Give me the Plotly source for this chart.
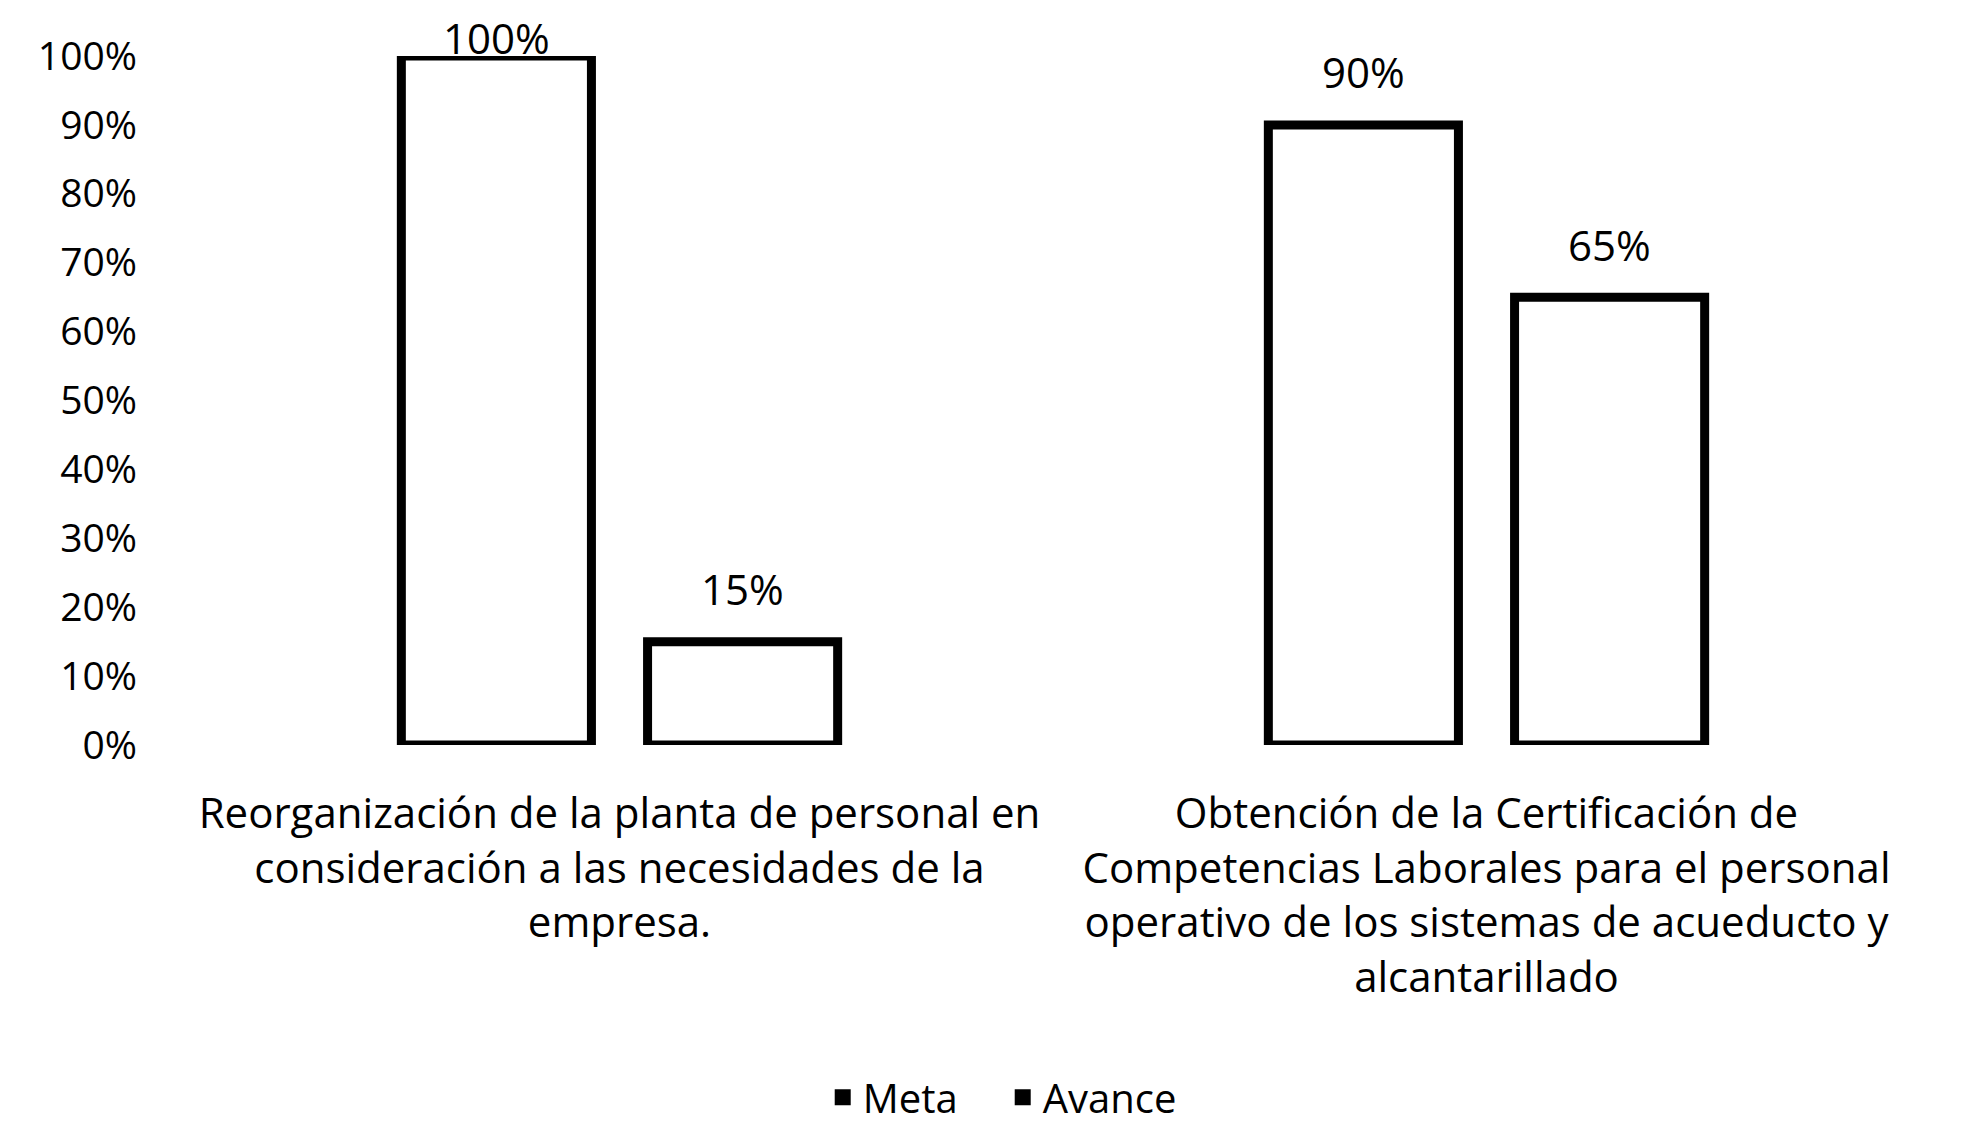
import plotly.graph_objects as go

categories = [
    "Reorganización de la planta de personal en<br>consideración a las necesidades de la<br>empresa.",
    "Obtención de la Certificación de<br>Competencias Laborales para el personal<br>operativo de los sistemas de acueducto y<br>alcantarillado",
]
meta = [1.00, 0.90]
avance = [0.15, 0.65]
series_names = ["Meta", "Avance"]
y_ticks = [0, 0.1, 0.2, 0.3, 0.4, 0.5, 0.6, 0.7, 0.8, 0.9, 1.0]

FONT = "Open Sans"
fig = go.Figure()
for name, vals, off in [(series_names[0], meta, 0), (series_names[1], avance, 1)]:
    fig.add_trace(go.Bar(
        x=categories, y=vals, name=name, showlegend=False,
        marker=dict(color="white", line=dict(color="black", width=9)),
        offsetgroup=str(off),
    ))
    fig.add_trace(go.Scatter(
        x=[None], y=[None], mode="markers", name=name,
        marker=dict(symbol="square", color="black", size=24),
    ))

# data labels
annotations = []
for vals, side in [(meta, -1), (avance, 1)]:
    for cat, v in zip(categories, vals):
        annotations.append(dict(
            x=cat, y=v, xref="x", yref="y", text=f"{round(v*100)}%",
            showarrow=False, yanchor="middle",
            xshift=side * 123, yshift=19 if v >= 0.99 else 53,
            font=dict(family=FONT, size=42, color="black"),
        ))

fig.update_layout(
    width=1969, height=1124,
    margin=dict(l=178, r=57, t=48, b=387, autoexpand=False),
    paper_bgcolor="white", plot_bgcolor="white",
    barmode="group", bargap=0.432, bargroupgap=0.228,
    annotations=annotations,
    legend=dict(orientation="h", x=0.471, xanchor="center",
                yref="container", y=0.031, yanchor="middle",
                font=dict(family=FONT, size=40, color="black"), itemwidth=30,
                entrywidth=135),
    font=dict(family=FONT, color="black"),
)
fig.update_yaxes(range=[0, 1.0], tickvals=y_ticks, tickformat=".0%",
                 showgrid=False, zeroline=False, showline=False,
                 tickfont=dict(family=FONT, size=39, color="black"),
                 ticklabelstandoff=48)
fig.update_xaxes(showgrid=False, showline=False, zeroline=False,
                 tickfont=dict(family=FONT, size=42, color="black"),
                 ticklabelstandoff=40)

fig.write_html("out.html")
